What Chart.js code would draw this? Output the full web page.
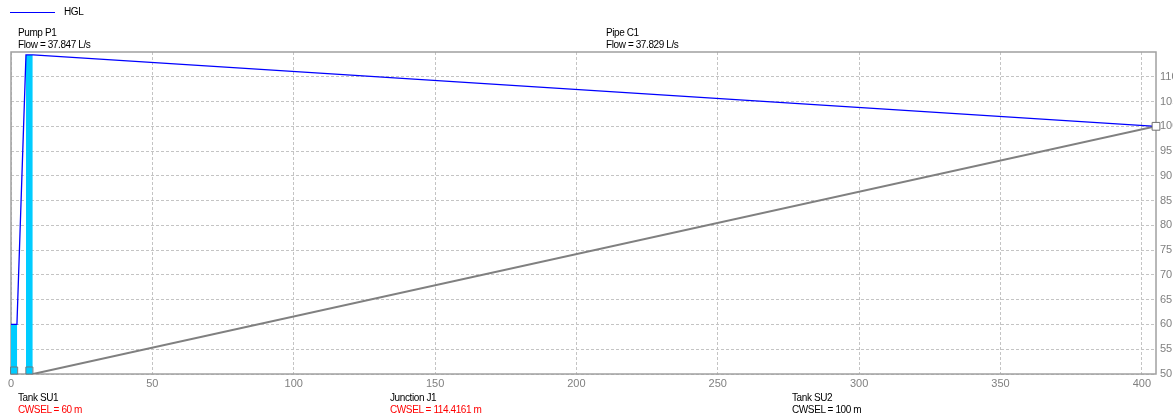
<!DOCTYPE html>
<html>
<head>
    <title>HGL Profile</title>
    <script src="https://cdn.jsdelivr.net/npm/chart.js"></script>
    <style>
        body { margin: 0; background: #fff; font-family: "Liberation Sans", Arial, sans-serif; }
        #wrap { position: relative; width: 1173px; height: 415px; overflow: hidden; }
        #profileChart { position: absolute; left: 0; top: 0; }
        .lbl { position: absolute; font-size: 10px; line-height: 12px; letter-spacing: -0.4px; color: #000; white-space: nowrap; }
        .red { color: #f00; }
        .legend-line { position: absolute; left: 10px; top: 12px; width: 45px; height: 1px; background: #0000ff; }
    </style>
</head>
<body>
<div id="wrap">
    <canvas id="profileChart" width="1173" height="415"></canvas>

    <!-- legend -->
    <div class="legend-line"></div>
    <div class="lbl" style="left:64px; top:6px;">HGL</div>

    <!-- link labels above the plot -->
    <div class="lbl" style="left:18px; top:27px;">Pump P1<br>Flow = 37.847 L/s</div>
    <div class="lbl" style="left:606px; top:27px;">Pipe C1<br>Flow = 37.829 L/s</div>

    <!-- node labels below the plot -->
    <div class="lbl" style="left:18px; top:392px;">Tank SU1<br><span class="red">CWSEL = 60 m</span></div>
    <div class="lbl" style="left:390px; top:392px;">Junction J1<br><span class="red">CWSEL = 114.4161 m</span></div>
    <div class="lbl" style="left:792px; top:392px;">Tank SU2<br>CWSEL = 100 m</div>
</div>
<script>
    // station (m) / elevation (m)
    const hglStation = [0, 2.1, 5.3, 7.8, 405];
    const hglHead = [60, 60, 114.4161, 114.4161, 100];

    const groundStation = [7.8, 405];
    const groundElev = [50, 100];

    const tankSu1Span = [0, 2.2];
    const tankSu1Level = 60;
    const pumpSpan = [5.3, 7.7];
    const pumpHead = 114.4161;

    const nodeStation = [1.1, 6.5];
    const nodeMark = 50.7;
    const endStation = [405];
    const endHead = [100];

    const xTickValues = [0, 50, 100, 150, 200, 250, 300, 350, 400];
    const yTickValues = [50, 55, 60, 65, 70, 75, 80, 85, 90, 95, 100, 105, 110];
    const xMin = 0, xMax = 405;
    const yMin = 50, yMax = 115;

    const toPoints = (xs, ys) => xs.map((x, i) => ({ x: x, y: Array.isArray(ys) ? ys[i] : ys }));

    const CYAN = '#00ccff';
    const tickFont = { family: 'Liberation Sans', size: 11 };

    // box round the plot area
    const frame = {
        id: 'frame',
        beforeDatasetsDraw(chart) {
            const a = chart.chartArea;
            const ctx = chart.ctx;
            ctx.save();
            ctx.strokeStyle = '#a0a0a0';
            ctx.lineWidth = 1.5;
            ctx.strokeRect(a.left, a.top, a.right - a.left, a.bottom - a.top);
            ctx.restore();
        }
    };

    new Chart(document.getElementById('profileChart'), {
        type: 'line',
        data: {
            datasets: [
                {
                    label: 'End',
                    data: toPoints(endStation, endHead),
                    showLine: false,
                    pointStyle: 'rect',
                    pointRadius: 5.5,
                    pointBackgroundColor: '#fff',
                    pointBorderColor: '#707070',
                    pointBorderWidth: 1,
                    clip: false,
                    order: 0
                },
                {
                    label: 'Nodes',
                    data: toPoints(nodeStation, nodeMark),
                    showLine: false,
                    pointStyle: 'rect',
                    pointRadius: 5,
                    pointBackgroundColor: 'rgba(0,0,0,0)',
                    pointBorderColor: '#6b7b80',
                    pointBorderWidth: 1,
                    clip: false,
                    order: 1
                },
                {
                    label: 'HGL',
                    data: toPoints(hglStation, hglHead),
                    borderColor: '#0000ff',
                    borderWidth: 1.3,
                    pointRadius: 0,
                    fill: false,
                    tension: 0,
                    order: 2
                },
                {
                    label: 'Ground',
                    data: toPoints(groundStation, groundElev),
                    borderColor: '#808080',
                    borderWidth: 2,
                    pointRadius: 0,
                    fill: false,
                    order: 3
                },
                {
                    label: 'Tank SU1',
                    data: toPoints(tankSu1Span, tankSu1Level),
                    borderWidth: 0,
                    borderColor: CYAN,
                    backgroundColor: CYAN,
                    pointRadius: 0,
                    fill: 'start',
                    order: 4
                },
                {
                    label: 'Pump P1',
                    data: toPoints(pumpSpan, pumpHead),
                    borderWidth: 0,
                    borderColor: CYAN,
                    backgroundColor: CYAN,
                    pointRadius: 0,
                    fill: 'start',
                    order: 5
                }
            ]
        },
        options: {
            responsive: false,
            animation: false,
            layout: { padding: { left: 11, top: 52, right: 0, bottom: 0 } },
            plugins: {
                legend: { display: false },
                tooltip: { enabled: false }
            },
            scales: {
                x: {
                    type: 'linear',
                    min: xMin,
                    max: xMax,
                    ticks: { color: '#808080', font: tickFont, padding: 3, maxRotation: 0, autoSkip: false },
                    grid: { color: '#c4c4c4', drawTicks: false },
                    border: { display: false, dash: [3, 2] },
                    afterBuildTicks(scale) { scale.ticks = xTickValues.map(v => ({ value: v })); },
                    afterFit(scale) { scale.height = 41; }
                },
                y: {
                    type: 'linear',
                    position: 'right',
                    min: yMin,
                    max: yMax,
                    ticks: { color: '#808080', font: tickFont, padding: 4, autoSkip: false },
                    grid: { color: '#c4c4c4', drawTicks: false },
                    border: { display: false, dash: [3, 2] },
                    afterBuildTicks(scale) { scale.ticks = yTickValues.map(v => ({ value: v })); },
                    afterFit(scale) { scale.width = 17; }
                }
            }
        },
        plugins: [frame]
    });
</script>
</body>
</html>
